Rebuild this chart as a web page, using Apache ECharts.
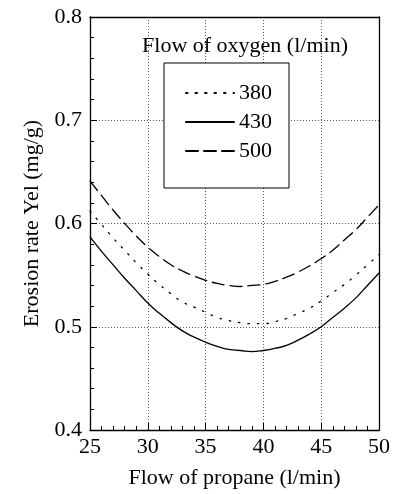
<!DOCTYPE html>
<html>
<head>
<meta charset="utf-8">
<script src="https://cdn.jsdelivr.net/npm/echarts@6/dist/echarts.min.js"></script>
<style>
  html, body { margin: 0; padding: 0; background: #fff; }
  #chart { width: 393px; height: 494px; }
</style>
</head>
<body>
<div id="chart"></div>
<script>
// propane flow (l/min)
const propane = [25, 26, 27, 28, 29, 30, 31, 32, 33, 34, 35, 36, 37, 38, 39, 40,
  41, 42, 43, 44, 45, 46, 47, 48, 49, 50];
// erosion rate for each oxygen flow
const rate380 = [0.612, 0.599, 0.586, 0.574, 0.562, 0.551, 0.541, 0.532, 0.524, 0.519,
  0.514, 0.509, 0.506, 0.504, 0.503, 0.503, 0.505, 0.508, 0.513, 0.518,
  0.525, 0.533, 0.541, 0.550, 0.560, 0.570];
const rate430 = [0.587, 0.573, 0.560, 0.547, 0.535, 0.523, 0.513, 0.504, 0.496, 0.490,
  0.485, 0.481, 0.478, 0.477, 0.476, 0.477, 0.479, 0.482, 0.487, 0.493,
  0.500, 0.509, 0.518, 0.528, 0.540, 0.552];
const rate500 = [0.641, 0.627, 0.613, 0.600, 0.588, 0.577, 0.568, 0.560, 0.554, 0.549,
  0.545, 0.542, 0.540, 0.539, 0.540, 0.541, 0.544, 0.548, 0.553, 0.559,
  0.566, 0.574, 0.584, 0.594, 0.606, 0.618];
const seriesNames = ['380', '430', '500'];
const legendTitle = 'Flow of oxygen (l/min)';

const font = 'Liberation Serif, Times New Roman, serif';

const pairs = (ys) => ys.map((v, i) => [propane[i], v]);

const chart = echarts.init(document.getElementById('chart'));

const mkSeries = (name, ys, dash) => ({
  name: name,
  type: 'line',
  data: pairs(ys),
  smooth: true,
  symbol: 'none',
  lineStyle: { color: '#000', width: 1.3, type: dash, cap: 'round' },
  itemStyle: { color: '#000' },
  z: 5
});

const gridLine = { show: true, lineStyle: { color: '#555', width: 1, type: [1, 2] } };

chart.setOption({
  animation: false,
  backgroundColor: '#fff',
  grid: { left: 90, right: 13, top: 17, bottom: 63 },
  title: {
    text: legendTitle,
    left: 240,
    top: 30,
    textAlign: 'center',
    textStyle: { fontFamily: font, fontSize: 22, fontWeight: 'normal', color: '#000' }
  },
  legend: {
    orient: 'vertical',
    left: 164,
    top: 63,
    data: seriesNames,
    padding: [19, 17, 26, 21],
    itemWidth: 48,
    itemHeight: 20,
    itemGap: 7,
    backgroundColor: '#fff',
    borderColor: '#000',
    borderWidth: 1,
    itemStyle: { opacity: 0 },
    textStyle: { fontFamily: font, fontSize: 22, color: '#000' }
  },
  xAxis: [{
    type: 'value',
    min: 25,
    max: 50,
    interval: 5,
    name: 'Flow of propane (l/min)',
    nameLocation: 'middle',
    nameGap: 37,
    nameTextStyle: { fontFamily: font, fontSize: 22, color: '#000' },
    axisLine: { show: true, lineStyle: { color: '#000', width: 1.3 } },
    axisTick: { show: true, inside: true, length: 7, lineStyle: { color: '#000' } },
    minorTick: { show: true, splitNumber: 5, length: 4, lineStyle: { color: '#000' } },
    axisLabel: { fontFamily: font, fontSize: 22, color: '#000', margin: 6 },
    splitLine: gridLine
  }, {
    type: 'value',
    position: 'top',
    min: 25,
    max: 50,
    axisLine: { show: true, onZero: false, lineStyle: { color: '#000', width: 1.3 } },
    axisTick: { show: false },
    axisLabel: { show: false },
    splitLine: { show: false }
  }],
  yAxis: [{
    type: 'value',
    min: 0.4,
    max: 0.8,
    interval: 0.1,
    name: 'Erosion rate Yel (mg/g)',
    nameLocation: 'middle',
    nameGap: 47,
    nameTextStyle: { fontFamily: font, fontSize: 22, color: '#000' },
    axisLine: { show: true, lineStyle: { color: '#000', width: 1.3 } },
    axisTick: { show: true, inside: true, length: 7, lineStyle: { color: '#000' } },
    minorTick: { show: true, splitNumber: 5, length: 4, lineStyle: { color: '#000' } },
    axisLabel: { fontFamily: font, fontSize: 22, color: '#000', margin: 8 },
    splitLine: gridLine
  }, {
    type: 'value',
    position: 'right',
    min: 0.4,
    max: 0.8,
    axisLine: { show: true, onZero: false, lineStyle: { color: '#000', width: 1.3 } },
    axisTick: { show: false },
    axisLabel: { show: false },
    splitLine: { show: false }
  }],
  series: [
    mkSeries(seriesNames[0], rate380, [1.5, 8]),
    mkSeries(seriesNames[1], rate430, 'solid'),
    mkSeries(seriesNames[2], rate500, [12, 6])
  ]
});
</script>
</body>
</html>
